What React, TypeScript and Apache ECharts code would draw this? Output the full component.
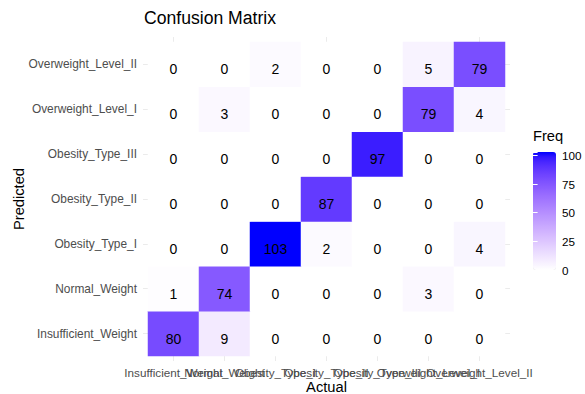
import React, { useEffect, useRef } from 'react';
import * as echarts from 'echarts';

// Categories (actual on x, predicted on y; first category at the bottom)
const classes = [
  'Insufficient_Weight',
  'Normal_Weight',
  'Obesity_Type_I',
  'Obesity_Type_II',
  'Obesity_Type_III',
  'Overweight_Level_I',
  'Overweight_Level_II',
];

// Frequencies per predicted class, indexed by actual class
const predInsufficientWeight = [80, 9, 0, 0, 0, 0, 0];
const predNormalWeight = [1, 74, 0, 0, 0, 3, 0];
const predObesityTypeI = [0, 0, 103, 2, 0, 0, 4];
const predObesityTypeII = [0, 0, 0, 87, 0, 0, 0];
const predObesityTypeIII = [0, 0, 0, 0, 97, 0, 0];
const predOverweightLevelI = [0, 3, 0, 0, 0, 79, 4];
const predOverweightLevelII = [0, 0, 2, 0, 0, 5, 79];

const legendTicks = [0, 25, 50, 75, 100];
const freqMin = 0;
const freqMax = 103;

const FONT = '"Liberation Sans", Arial, Helvetica, sans-serif';

// --- Lab colour interpolation (like ggplot's scale_fill_gradient) ---
function toLin(c: number) {
  c /= 255;
  return c <= 0.04045 ? c / 12.92 : Math.pow((c + 0.055) / 1.055, 2.4);
}
function fromLin(c: number) {
  const v = c <= 0.0031308 ? 12.92 * c : 1.055 * Math.pow(c, 1 / 2.4) - 0.055;
  return Math.max(0, Math.min(255, Math.round(v * 255)));
}
const Xn = 0.95047, Yn = 1.0, Zn = 1.08883;
function rgbToLab(r: number, g: number, b: number) {
  const R = toLin(r), G = toLin(g), B = toLin(b);
  const X = 0.4124 * R + 0.3576 * G + 0.1805 * B;
  const Y = 0.2126 * R + 0.7152 * G + 0.0722 * B;
  const Z = 0.0193 * R + 0.1192 * G + 0.9505 * B;
  const f = (t: number) => (t > 0.008856 ? Math.cbrt(t) : 7.787 * t + 16 / 116);
  const fx = f(X / Xn), fy = f(Y / Yn), fz = f(Z / Zn);
  return [116 * fy - 16, 500 * (fx - fy), 200 * (fy - fz)];
}
function labToHex(L: number, a: number, b: number) {
  const fy = (L + 16) / 116;
  const fx = fy + a / 500;
  const fz = fy - b / 200;
  const fi = (t: number) => (t * t * t > 0.008856 ? t * t * t : (t - 16 / 116) / 7.787);
  const X = fi(fx) * Xn, Y = fi(fy) * Yn, Z = fi(fz) * Zn;
  const R = 3.2406 * X - 1.5372 * Y - 0.4986 * Z;
  const G = -0.9689 * X + 1.8758 * Y + 0.0415 * Z;
  const B = 0.0557 * X - 0.204 * Y + 1.057 * Z;
  const h = (v: number) => fromLin(Math.max(0, v)).toString(16).padStart(2, '0');
  return '#' + h(R) + h(G) + h(B);
}
const lowLab = rgbToLab(255, 255, 255);
const highLab = rgbToLab(0, 0, 255);
const gradientStops: string[] = [];
for (let i = 0; i <= 24; i++) {
  const t = i / 24;
  gradientStops.push(
    labToHex(
      lowLab[0] + (highLab[0] - lowLab[0]) * t,
      lowLab[1] + (highLab[1] - lowLab[1]) * t,
      lowLab[2] + (highLab[2] - lowLab[2]) * t,
    ),
  );
}

const predictedRows = [
  predInsufficientWeight,
  predNormalWeight,
  predObesityTypeI,
  predObesityTypeII,
  predObesityTypeIII,
  predOverweightLevelI,
  predOverweightLevelII,
];

export default function App() {
  const ref = useRef<HTMLDivElement>(null);

  useEffect(() => {
    if (!ref.current) return;
    const chart = echarts.init(ref.current, undefined, { renderer: 'svg' });

    const data: [number, number, number][] = [];
    predictedRows.forEach((row, y) => {
      row.forEach((v, x) => data.push([x, y, v]));
    });

    const stubTick = {
      show: true,
      alignWithLabel: true,
      length: 5,
      lineStyle: { color: '#ebebeb', width: 1 },
    };
    const barTick = {
      show: true,
      inside: true,
      length: 4.6,
      lineStyle: { color: '#ffffff', width: 1 },
    };

    chart.setOption({
      animation: false,
      textStyle: { fontFamily: FONT },
      title: [
        {
          text: 'Confusion Matrix',
          left: 144,
          top: 9,
          padding: 0,
          textStyle: { fontSize: 17.6, fontWeight: 'normal', color: '#000', fontFamily: FONT },
        },
        {
          text: 'Freq',
          left: 533,
          top: 128,
          padding: 0,
          textStyle: { fontSize: 14.7, fontWeight: 'normal', color: '#000', fontFamily: FONT },
        },
      ],
      grid: [
        { left: 148, top: 42, width: 357, height: 314, containLabel: false, outerBoundsMode: 'none' },
        { left: 533, top: 152, width: 23, height: 118, containLabel: false, outerBoundsMode: 'none' },
      ],
      xAxis: [
        {
          gridIndex: 0,
          type: 'category',
          data: classes,
          position: 'bottom',
          axisLine: { show: false },
          axisTick: stubTick,
          axisLabel: { interval: 0, hideOverlap: false, color: '#4d4d4d', fontSize: 11.7, margin: 10, fontFamily: FONT },
          splitLine: { show: false },
          name: 'Actual',
          nameLocation: 'middle',
          nameGap: 23,
          nameMoveOverlap: false,
          nameTextStyle: { color: '#000', fontSize: 14.7, fontFamily: FONT },
        },
        {
          gridIndex: 0,
          type: 'category',
          data: classes,
          position: 'top',
          axisLine: { show: false },
          axisTick: stubTick,
          axisLabel: { show: false },
          splitLine: { show: false },
        },
        { gridIndex: 1, type: 'value', min: 0, max: 1, show: false },
      ],
      yAxis: [
        {
          gridIndex: 0,
          type: 'category',
          data: classes,
          position: 'left',
          axisLine: { show: false },
          axisTick: stubTick,
          axisLabel: { interval: 0, color: '#4d4d4d', fontSize: 11.9, margin: 11, fontFamily: FONT },
          splitLine: { show: false },
          name: 'Predicted',
          nameLocation: 'middle',
          nameRotate: 90,
          nameGap: 122,
          nameMoveOverlap: false,
          nameTextStyle: { color: '#000', fontSize: 14.7, fontFamily: FONT },
        },
        {
          gridIndex: 0,
          type: 'category',
          data: classes,
          position: 'right',
          axisLine: { show: false },
          axisTick: stubTick,
          axisLabel: { show: false },
          splitLine: { show: false },
        },
        {
          gridIndex: 1,
          type: 'value',
          min: freqMin,
          max: freqMax,
          interval: 25,
          position: 'right',
          axisLine: { show: false },
          axisTick: barTick,
          axisLabel: {
            color: '#000',
            fontSize: 11.7,
            margin: 6,
            fontFamily: FONT,
            formatter: (v: number) => (legendTicks.includes(v) ? String(v) : ''),
          },
          splitLine: { show: false },
          z: 10,
        },
        {
          gridIndex: 1,
          type: 'value',
          min: freqMin,
          max: freqMax,
          interval: 25,
          position: 'left',
          axisLine: { show: false },
          axisTick: barTick,
          axisLabel: { show: false },
          splitLine: { show: false },
          z: 10,
        },
      ],
      visualMap: {
        type: 'continuous',
        min: freqMin,
        max: freqMax,
        seriesIndex: 0,
        dimension: 2,
        calculable: false,
        orient: 'vertical',
        left: 533,
        top: 152,
        itemWidth: 23,
        itemHeight: 118,
        padding: 0,
        inRange: { color: gradientStops },
        textStyle: { color: 'transparent' },
      },
      series: [
        {
          type: 'heatmap',
          xAxisIndex: 0,
          yAxisIndex: 0,
          data,
          label: {
            show: true,
            color: '#000',
            fontSize: 14,
            fontFamily: FONT,
            offset: [0, 5],
            formatter: (p: any) => String(p.value[2]),
          },
          itemStyle: { borderWidth: 0 },
          emphasis: { disabled: true },
        },
      ],
    });

    return () => chart.dispose();
  }, []);

  return (
    <div
      ref={ref}
      style={{ position: 'fixed', left: 0, top: 0, width: 585, height: 394, background: '#fff' }}
    />
  );
}
